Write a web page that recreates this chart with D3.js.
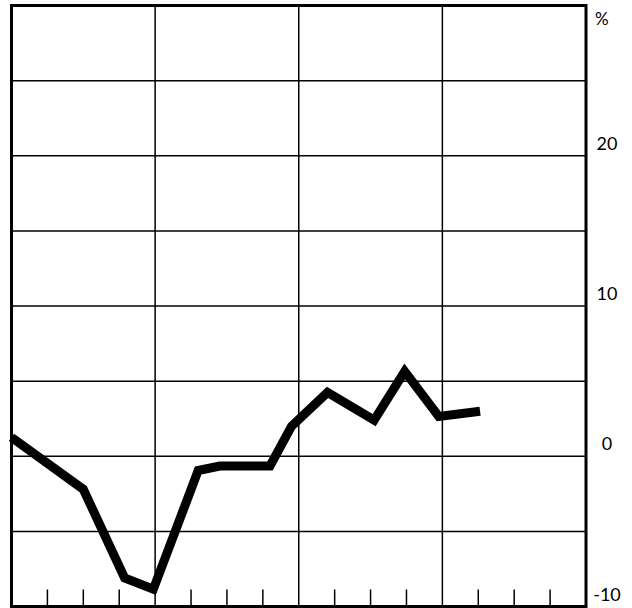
<!DOCTYPE html>
<html>
<head>
<meta charset="utf-8">
<script src="https://cdn.jsdelivr.net/npm/d3@7"></script>
<style>
  html, body { margin: 0; padding: 0; background: #fff; }
  svg { display: block; }
  text { font-family: "Lato", "Noto Sans", sans-serif; fill: #000; }
</style>
</head>
<body>
<svg id="chart" width="632" height="608"></svg>
<script>
// Period positions (in tick units along the x axis) and values (%)
const periods = [0, 2, 3.15, 3.95, 5.2, 5.8, 7.2, 7.8, 8.8, 10.1, 10.95, 11.9, 13.05];
const values  = [1.25, -2.2, -8.1, -8.85, -0.95, -0.65, -0.65, 2.0, 4.25, 2.4, 5.65, 2.65, 3.0];
const yGridValues = [-10, -5, 0, 5, 10, 15, 20, 25, 30];
const yTickLabels = ["-10", "0", "10", "20"];
const yTickValues = [-10, 0, 10, 20];
const xGridValues = [0, 4, 8, 12, 16];
const xMinorTicks = [1, 2, 3, 5, 6, 7, 9, 10, 11, 13, 14, 15];
const unitLabel = "%";

const svg = d3.select("#chart");
const x = d3.scaleLinear().domain([0, 16]).range([11.5, 586]);
const y = d3.scaleLinear().domain([-10, 30]).range([606.5, 5.5]);

// horizontal grid
svg.append("g").selectAll("line").data(yGridValues).join("line")
  .attr("x1", x(0)).attr("x2", x(16))
  .attr("y1", d => y(d)).attr("y2", d => y(d))
  .attr("stroke", "#000").attr("stroke-width", 1.5);

// vertical grid
svg.append("g").selectAll("line").data(xGridValues).join("line")
  .attr("x1", d => x(d)).attr("x2", d => x(d))
  .attr("y1", y(30)).attr("y2", y(-10))
  .attr("stroke", "#000").attr("stroke-width", 1.5);

// frame
svg.append("rect")
  .attr("x", x(0)).attr("y", y(30))
  .attr("width", x(16) - x(0)).attr("height", y(-10) - y(30))
  .attr("fill", "none").attr("stroke", "#000").attr("stroke-width", 3);

// bottom minor ticks
svg.append("g").selectAll("line").data(xMinorTicks).join("line")
  .attr("x1", d => x(d)).attr("x2", d => x(d))
  .attr("y1", y(-10)).attr("y2", y(-10) - 17)
  .attr("stroke", "#000").attr("stroke-width", 1.5);

// right axis labels
svg.append("g").selectAll("text").data(yTickValues).join("text")
  .attr("x", 607).attr("y", d => y(d) - 13)
  .attr("text-anchor", "middle").attr("dominant-baseline", "central")
  .attr("font-size", 18)
  .text((d, i) => yTickLabels[i]);

svg.append("text")
  .attr("x", 595).attr("y", 18)
  .attr("dominant-baseline", "central")
  .attr("font-size", 17)
  .text(unitLabel);

// data line
const line = d3.line().x(d => x(d[0])).y(d => y(d[1]));
svg.append("path")
  .datum(periods.map((p, i) => [p, values[i]]))
  .attr("d", line)
  .attr("fill", "none").attr("stroke", "#000")
  .attr("stroke-width", 9).attr("stroke-linejoin", "miter").attr("stroke-linecap", "butt");
</script>
</body>
</html>
